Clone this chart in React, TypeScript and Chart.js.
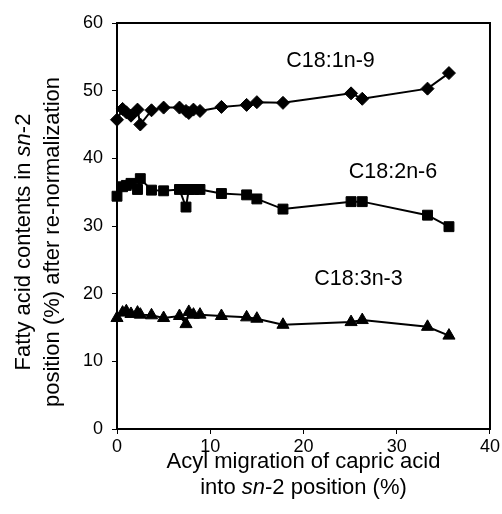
import { useEffect, useRef } from "react";
import { Chart, registerables } from "chart.js";

Chart.register(...registerables);

const FONT = "'Liberation Sans', Arial, Helvetica, sans-serif";

// Acyl migration of capric acid into sn-2 position (%)
const xMigration = [0, 0.6, 1.0, 1.5, 2.2, 2.5, 3.7, 5.0, 6.7, 7.4, 7.7, 8.2, 8.9, 11.2, 13.9, 15.0, 17.8, 25.1, 26.3, 33.3, 35.6];
// Fatty acid contents in sn-2 position (%)
const c18_1n9 = [45.7, 47.3, 46.8, 46.3, 47.2, 45.0, 47.1, 47.5, 47.5, 47.0, 46.7, 47.2, 47.0, 47.6, 47.9, 48.3, 48.2, 49.6, 48.8, 50.3, 52.6];
const c18_2n6 = [34.4, 35.8, 36.0, 36.3, 35.4, 37.0, 35.3, 35.2, 35.4, 32.8, 35.4, 35.4, 35.4, 34.8, 34.6, 34.0, 32.5, 33.6, 33.6, 31.6, 29.9];
const c18_3n3 = [16.4, 17.2, 17.4, 17.0, 17.2, 16.9, 16.8, 16.4, 16.7, 15.5, 17.3, 16.9, 16.9, 16.7, 16.5, 16.3, 15.4, 15.8, 16.1, 15.1, 13.8];

const seriesNames = ["C18:1n-9", "C18:2n-6", "C18:3n-3"];
const seriesMarkers = ["rectRot", "rect", "triangle"];
const labelX = [22.9, 29.6, 25.9];
const labelY = [54.4, 38.0, 22.2];

const xTicks = [0, 10, 20, 30, 40];
const yTicks = [0, 10, 20, 30, 40, 50, 60];

type Part = { t: string; i?: boolean };
const xTitleLines: Part[][] = [
  [{ t: "Acyl migration of capric acid" }],
  [{ t: "into " }, { t: "sn", i: true }, { t: "-2 position (%)" }],
];
const yTitleLines: Part[][] = [
  [{ t: "Fatty acid contents in " }, { t: "sn", i: true }, { t: "-2" }],
  [{ t: "position (%) after re-normalization" }],
];

function drawRich(ctx: CanvasRenderingContext2D, parts: Part[], x: number, y: number, size: number) {
  let total = 0;
  const widths: number[] = [];
  parts.forEach((p) => {
    ctx.font = `${p.i ? "italic " : ""}${size}px ${FONT}`;
    const w = ctx.measureText(p.t).width;
    widths.push(w);
    total += w;
  });
  let cx = x - total / 2;
  ctx.textAlign = "left";
  ctx.textBaseline = "middle";
  parts.forEach((p, k) => {
    ctx.font = `${p.i ? "italic " : ""}${size}px ${FONT}`;
    ctx.fillText(p.t, cx, y);
    cx += widths[k];
  });
}

const decorPlugin = {
  id: "decor",
  afterDraw(chart: any) {
    const { ctx, chartArea, scales } = chart;
    ctx.save();
    // frame
    ctx.strokeStyle = "#000";
    ctx.lineWidth = 2;
    ctx.strokeRect(chartArea.left, chartArea.top, chartArea.right - chartArea.left, chartArea.bottom - chartArea.top);
    ctx.fillStyle = "#000";
    // series labels
    seriesNames.forEach((name, k) => {
      const px = scales.x.getPixelForValue(labelX[k]);
      const py = scales.y.getPixelForValue(labelY[k]);
      drawRich(ctx, [{ t: name }], px, py, 21.5);
    });
    // x title
    const cxm = (chartArea.left + chartArea.right) / 2;
    drawRich(ctx, xTitleLines[0], cxm, chartArea.bottom + 33, 22);
    drawRich(ctx, xTitleLines[1], cxm, chartArea.bottom + 59, 22);
    // y title
    ctx.translate(0, 242);
    ctx.rotate(-Math.PI / 2);
    drawRich(ctx, yTitleLines[0], 0, 24, 22);
    drawRich(ctx, yTitleLines[1], 0, 53, 22);
    ctx.restore();
  },
};

function App() {
  const ref = useRef<HTMLCanvasElement | null>(null);
  useEffect(() => {
    if (!ref.current) return;
    const series = [c18_1n9, c18_2n6, c18_3n3];
    const radii = [6.5, 7, 7];
    const chart = new Chart(ref.current, {
      type: "scatter",
      data: {
        datasets: series.map((vals, k) => ({
          label: seriesNames[k],
          data: xMigration.map((x, j) => ({ x, y: vals[j] })),
          showLine: true,
          clip: false,
          borderColor: "#000",
          borderWidth: 2,
          backgroundColor: "#000",
          pointBackgroundColor: "#000",
          pointBorderColor: "#000",
          pointBorderWidth: 1,
          pointStyle: seriesMarkers[k] as any,
          pointRadius: radii[k],
          tension: 0,
        })),
      },
      options: {
        animation: false,
        responsive: false,
        devicePixelRatio: 1,
        layout: { padding: { top: 23, right: 12, left: 0, bottom: 0 } },
        plugins: { legend: { display: false }, tooltip: { enabled: false } },
        scales: {
          x: {
            type: "linear",
            min: 0,
            max: 40,
            afterFit: (s: any) => {
              s.height = 85;
            },
            afterBuildTicks: (s: any) => {
              s.ticks = xTicks.map((v) => ({ value: v }));
            },
            border: { display: true, color: "#000", width: 2 },
            grid: { drawOnChartArea: false, drawTicks: true, tickLength: 5, color: "#000" },
            ticks: { color: "#000", font: { family: FONT, size: 18 }, padding: 2, maxRotation: 0 },
          },
          y: {
            type: "linear",
            min: 0,
            max: 60,
            afterFit: (s: any) => {
              s.width = 117;
            },
            afterBuildTicks: (s: any) => {
              s.ticks = yTicks.map((v) => ({ value: v }));
            },
            border: { display: true, color: "#000", width: 2 },
            grid: { drawOnChartArea: false, drawTicks: true, tickLength: 5, color: "#000" },
            ticks: { color: "#000", font: { family: FONT, size: 18 }, padding: 9 },
          },
        },
      },
      plugins: [decorPlugin],
    });
    return () => chart.destroy();
  }, []);
  return (
    <div style={{ position: "fixed", left: 0, top: 0, width: 502, height: 514, background: "#fff" }}>
      <canvas ref={ref} width={502} height={514} style={{ width: 502, height: 514 }} />
    </div>
  );
}

export default App;
